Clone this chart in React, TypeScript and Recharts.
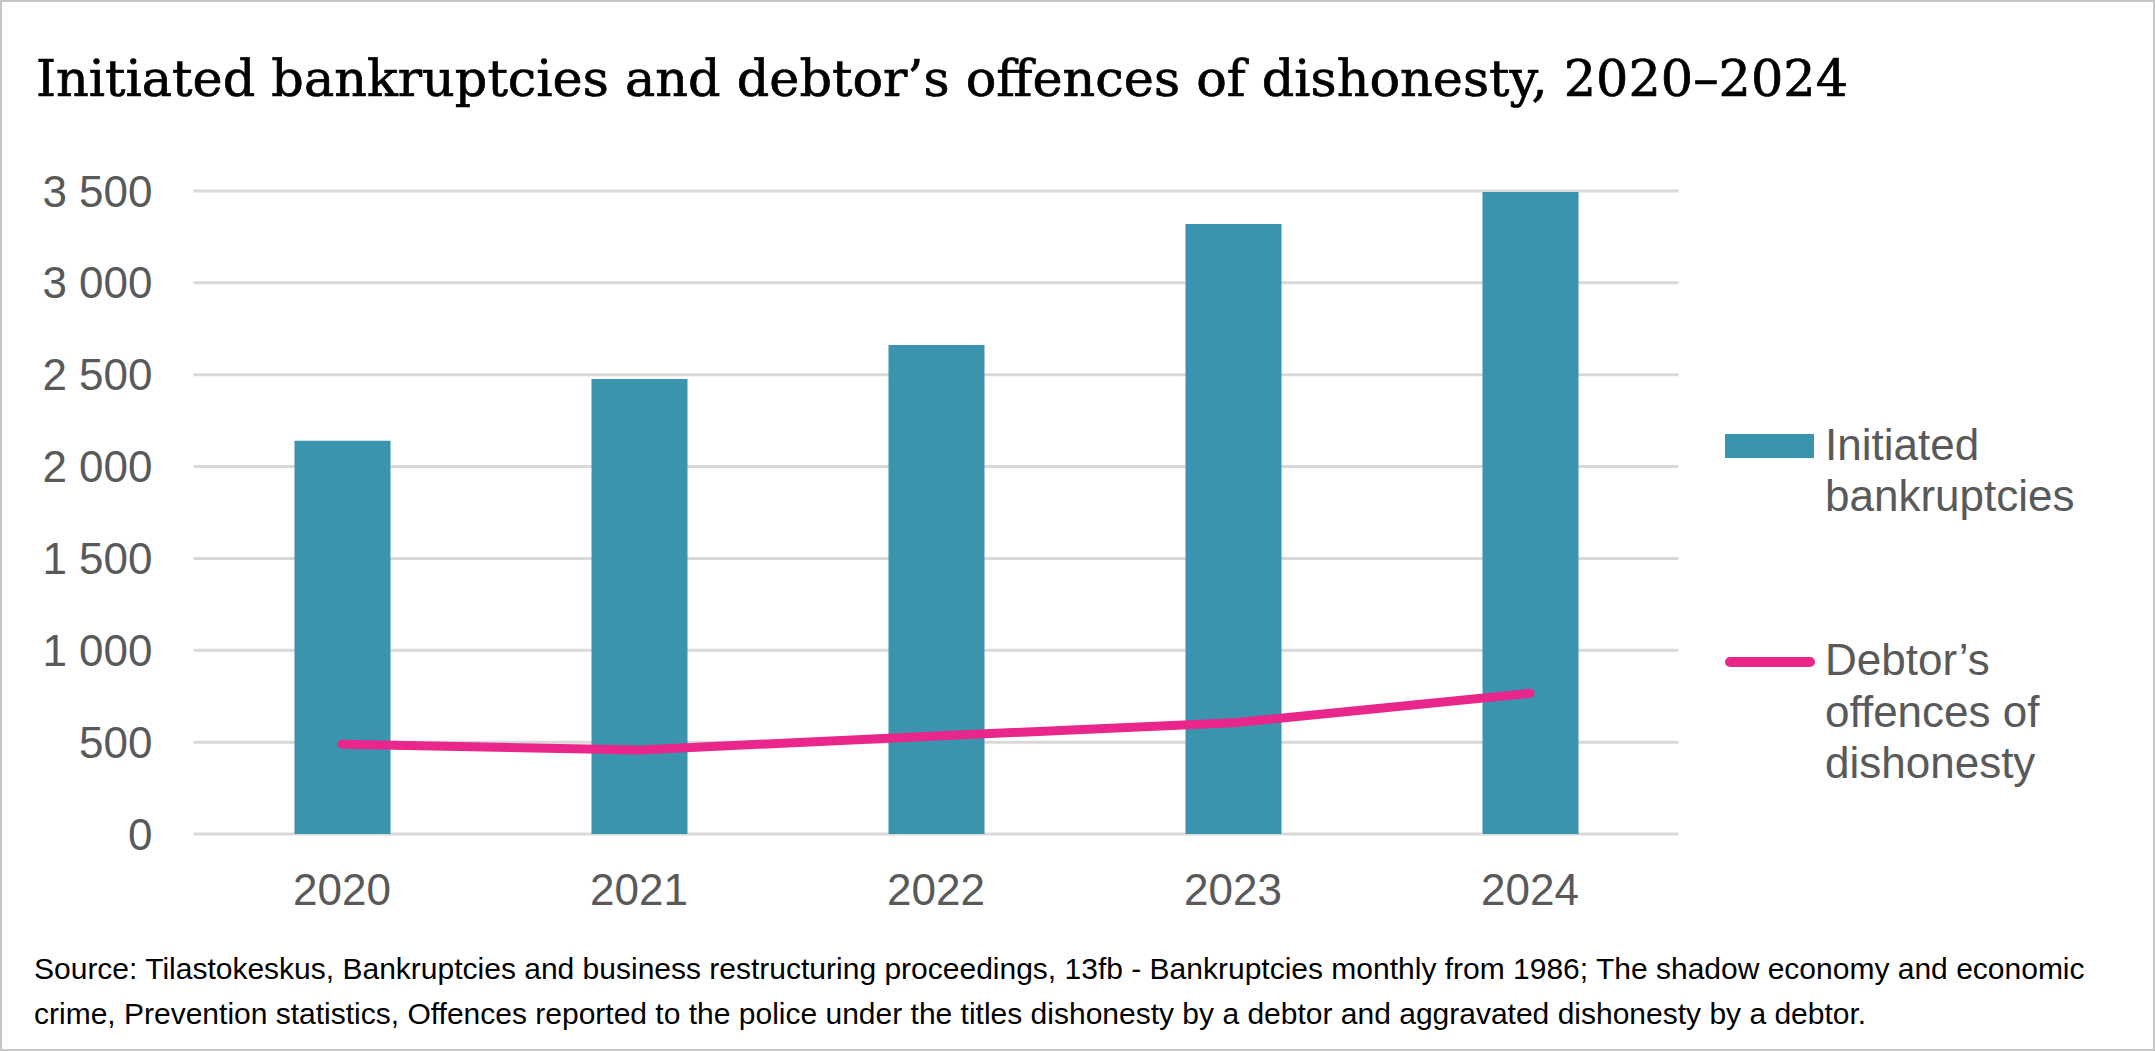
import { ComposedChart, Bar, Line, XAxis, YAxis, CartesianGrid } from 'recharts'

const years = ['2020', '2021', '2022', '2023', '2024']
const bankruptcies = [2140, 2477, 2662, 3320, 3495]
const offences = [489, 457, 534, 605, 766]
const yTicks = [0, 500, 1000, 1500, 2000, 2500, 3000, 3500]

const BAR_COLOR = '#3a94ae'
const LINE_COLOR = '#e9268b'
const LABEL_COLOR = '#595959'
const SANS = '"Liberation Sans", Arial, sans-serif'

const data = years.map((year, i) => ({
  year,
  bankruptcies: bankruptcies[i],
  offences: offences[i],
}))

const fmt = (v: number) => (v >= 1000 ? `${Math.floor(v / 1000)} ${String(v % 1000).padStart(3, '0')}` : String(v))

export default function App() {
  return (
    <div
      style={{
        position: 'absolute',
        left: 0,
        top: 0,
        width: 2155,
        height: 1051,
        background: '#fff',
        boxSizing: 'border-box',
        border: '2px solid #c6c6c6',
        overflow: 'hidden',
      }}
    >
      <svg width={2155} height={120} style={{ position: 'absolute', left: -2, top: -2 }}>
        <text
          x={36}
          y={96}
          fontFamily='"DejaVu Serif", serif'
          fontSize={51}
          fill="#000"
          stroke="#000"
          strokeWidth={0.7}
          textLength={1812}
          lengthAdjust="spacingAndGlyphs"
        >
          Initiated bankruptcies and debtor’s offences of dishonesty, 2020–2024
        </text>
      </svg>

      <div style={{ position: 'absolute', left: -2, top: -2 }}>
        <ComposedChart
          width={2155}
          height={1051}
          data={data}
          margin={{ top: 191, right: 476.5, bottom: 117, left: 0 }}
          barCategoryGap="33.8%"
        >
          <CartesianGrid vertical={false} stroke="#d9d9d9" strokeWidth={3} />
          <XAxis
            dataKey="year"
            height={100}
            axisLine={false}
            tickLine={false}
            tickSize={0}
            tickMargin={40}
            tick={{ fill: LABEL_COLOR, fontSize: 44, fontFamily: SANS }}
          />
          <YAxis
            width={193.5}
            domain={[0, 3500]}
            ticks={yTicks}
            interval={0}
            axisLine={false}
            tickLine={false}
            tickSize={0}
            tickMargin={41}
            tickFormatter={fmt}
            tick={{ fill: LABEL_COLOR, fontSize: 44, fontFamily: SANS }}
          />
          <Bar dataKey="bankruptcies" fill={BAR_COLOR} barSize={96} isAnimationActive={false} />
          <Line
            type="linear"
            dataKey="offences"
            stroke={LINE_COLOR}
            strokeWidth={9}
            strokeLinecap="round"
            strokeLinejoin="round"
            dot={false}
            activeDot={false}
            isAnimationActive={false}
          />
        </ComposedChart>
      </div>

      {/* legend */}
      <svg width={100} height={400} style={{ position: 'absolute', left: 1723, top: 398 }}>
        <rect x={0} y={34} width={89} height={24} fill={BAR_COLOR} />
        <line x1={5} x2={85} y1={262} y2={262} stroke={LINE_COLOR} strokeWidth={10} strokeLinecap="round" />
      </svg>
      <div
        style={{
          position: 'absolute',
          left: 1823,
          top: 417,
          fontFamily: SANS,
          fontSize: 44,
          lineHeight: '51px',
          color: LABEL_COLOR,
        }}
      >
        Initiated
        <br />
        bankruptcies
      </div>
      <div
        style={{
          position: 'absolute',
          left: 1823,
          top: 632,
          fontFamily: SANS,
          fontSize: 44,
          lineHeight: '51.5px',
          color: LABEL_COLOR,
        }}
      >
        Debtor’s
        <br />
        offences of
        <br />
        dishonesty
      </div>

      <div
        style={{
          position: 'absolute',
          left: 32,
          top: 944,
          fontFamily: SANS,
          fontSize: 30,
          lineHeight: '45px',
          color: '#000',
          whiteSpace: 'nowrap',
        }}
      >
        Source: Tilastokeskus, Bankruptcies and business restructuring proceedings, 13fb - Bankruptcies monthly from 1986; The shadow economy and economic
        <br />
        crime, Prevention statistics, Offences reported to the police under the titles dishonesty by a debtor and aggravated dishonesty by a debtor.
      </div>
    </div>
  )
}
